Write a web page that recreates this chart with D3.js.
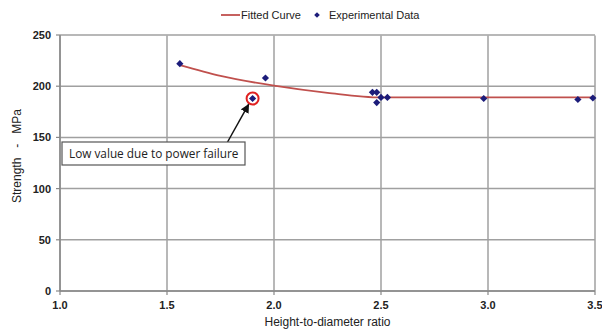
<!DOCTYPE html>
<html>
<head>
    <style>
        body { margin: 0; background: #fff; }
        .tick-label { font-family: "Liberation Sans", Arial, sans-serif; font-size: 11px; font-weight: bold; fill: #222; }
        .axis-title { font-family: "Liberation Sans", Arial, sans-serif; font-size: 12px; fill: #222; }
        .legend-text { font-family: "Liberation Sans", Arial, sans-serif; font-size: 11px; fill: #222; }
        .note { font-family: "Open Sans", sans-serif; font-size: 11.8px; fill: #222; }
    </style>
</head>
<body>
    <div id="chart"></div>

    <script src="https://d3js.org/d3.v7.min.js"></script>
    <script>
        // experimental points (height/diameter, strength MPa)
        var expRatio = [1.56, 1.96, 1.90, 2.46, 2.48, 2.48, 2.50, 2.53, 2.98, 3.42, 3.49];
        var expStrength = [222, 208, 188, 194, 194, 184, 189, 189, 188, 187, 188.5];

        // fitted curve
        var fitRatio = [1.56, 1.75, 2.0, 2.25, 2.5, 3.0, 3.5];
        var fitStrength = [220.5, 210, 200.5, 193.5, 189, 189, 189];

        var xTicks = [1.0, 1.5, 2.0, 2.5, 3.0, 3.5];
        var yTicks = [0, 50, 100, 150, 200, 250];

        // the circled low point
        var lowPoint = [1.90, 188];

        var width = 602, height = 334;
        var margin = { top: 35, right: 7, bottom: 43, left: 60 };

        var svg = d3.select("#chart").append("svg")
            .attr("width", width)
            .attr("height", height);

        var x = d3.scaleLinear().domain([1.0, 3.5]).range([margin.left, width - margin.right]);
        var y = d3.scaleLinear().domain([0, 250]).range([height - margin.bottom, margin.top]);

        // grid
        svg.selectAll(".vgrid").data(xTicks).enter().append("line")
            .attr("x1", function (d) { return x(d); })
            .attr("x2", function (d) { return x(d); })
            .attr("y1", y(0)).attr("y2", y(250) + 0.5)
            .attr("stroke", "#a0a0a0").attr("stroke-width", 1.5);
        svg.selectAll(".hgrid").data(yTicks).enter().append("line")
            .attr("x1", x(1.0)).attr("x2", x(3.5))
            .attr("y1", function (d) { return y(d); })
            .attr("y2", function (d) { return y(d); })
            .attr("stroke", "#a0a0a0").attr("stroke-width", 1.5);

        // axis lines slightly darker
        svg.append("line").attr("x1", x(1.0)).attr("x2", x(3.5)).attr("y1", y(0)).attr("y2", y(0))
            .attr("stroke", "#888").attr("stroke-width", 1.5);
        svg.append("line").attr("x1", x(1.0)).attr("x2", x(1.0)).attr("y1", y(0)).attr("y2", y(250))
            .attr("stroke", "#888").attr("stroke-width", 1.5);

        // tick marks
        svg.selectAll(".ytm").data(yTicks).enter().append("line")
            .attr("x1", x(1.0) - 4).attr("x2", x(1.0))
            .attr("y1", function (d) { return y(d); }).attr("y2", function (d) { return y(d); })
            .attr("stroke", "#888").attr("stroke-width", 1.2);
        svg.selectAll(".xtm").data(xTicks).enter().append("line")
            .attr("x1", function (d) { return x(d); }).attr("x2", function (d) { return x(d); })
            .attr("y1", y(0)).attr("y2", y(0) + 4)
            .attr("stroke", "#888").attr("stroke-width", 1.2);

        // tick labels
        svg.selectAll(".ylab").data(yTicks).enter().append("text")
            .attr("class", "tick-label")
            .attr("x", x(1.0) - 9)
            .attr("y", function (d) { return y(d) + 4; })
            .attr("text-anchor", "end")
            .text(function (d) { return d; });
        svg.selectAll(".xlab").data(xTicks).enter().append("text")
            .attr("class", "tick-label")
            .attr("x", function (d) { return x(d); })
            .attr("y", y(0) + 18)
            .attr("text-anchor", "middle")
            .text(function (d) { return d.toFixed(1); });

        // axis titles
        svg.append("text").attr("class", "axis-title")
            .attr("x", (x(1.0) + x(3.5)) / 2)
            .attr("y", height - 8)
            .attr("text-anchor", "middle")
            .text("Height-to-diameter  ratio");
        svg.append("text").attr("class", "axis-title")
            .attr("transform", "translate(21," + 156 + ") rotate(-90)")
            .attr("text-anchor", "middle")
            .attr("xml:space", "preserve")
            .text("Strength   -   MPa");

        // fitted curve
        var line = d3.line()
            .x(function (d) { return x(d[0]); })
            .y(function (d) { return y(d[1]); })
            .curve(d3.curveMonotoneX);
        svg.append("path")
            .datum(d3.zip(fitRatio, fitStrength))
            .attr("d", line)
            .attr("fill", "none")
            .attr("stroke", "#c0504d")
            .attr("stroke-width", 1.8);

        // circle around low point
        svg.append("circle")
            .attr("cx", x(lowPoint[0])).attr("cy", y(lowPoint[1]))
            .attr("r", 6)
            .attr("fill", "none")
            .attr("stroke", "#e02020")
            .attr("stroke-width", 2);

        // points (square rotated 45deg, like Excel's diamond marker)
        var diamond = "M0,-3.6L3.6,0L0,3.6L-3.6,0Z";
        svg.selectAll(".pt").data(d3.zip(expRatio, expStrength)).enter().append("path")
            .attr("d", diamond)
            .attr("transform", function (d) { return "translate(" + x(d[0]) + "," + y(d[1]) + ")"; })
            .attr("fill", "#1c1c7a");

        // annotation box + arrow
        svg.append("defs").append("marker")
            .attr("id", "arrow")
            .attr("viewBox", "0 0 10 10")
            .attr("refX", 9).attr("refY", 5)
            .attr("markerWidth", 6).attr("markerHeight", 6)
            .attr("orient", "auto")
            .append("path").attr("d", "M0,0 L10,5 L0,10 z").attr("fill", "#111");
        svg.append("line")
            .attr("x1", 227).attr("y1", 143)
            .attr("x2", x(lowPoint[0]) - 4).attr("y2", y(lowPoint[1]) + 6)
            .attr("stroke", "#111").attr("stroke-width", 1.5)
            .attr("marker-end", "url(#arrow)");
        svg.append("rect")
            .attr("x", 62).attr("y", 142).attr("width", 183).attr("height", 23)
            .attr("fill", "#fff").attr("stroke", "#555").attr("stroke-width", 1.2);
        svg.append("text").attr("class", "note")
            .attr("x", 69).attr("y", 158)
            .text("Low value due to power failure");

        // legend
        svg.append("line").attr("x1", 221).attr("x2", 240).attr("y1", 15).attr("y2", 15)
            .attr("stroke", "#c0504d").attr("stroke-width", 1.8);
        svg.append("text").attr("class", "legend-text").attr("x", 241).attr("y", 19).text("Fitted Curve");
        svg.append("path").attr("d", "M0,-2.8L2.8,0L0,2.8L-2.8,0Z").attr("transform", "translate(317,15)").attr("fill", "#1c1c7a");
        svg.append("text").attr("class", "legend-text").attr("x", 329).attr("y", 19).text("Experimental Data");
    </script>
</body>
</html>
